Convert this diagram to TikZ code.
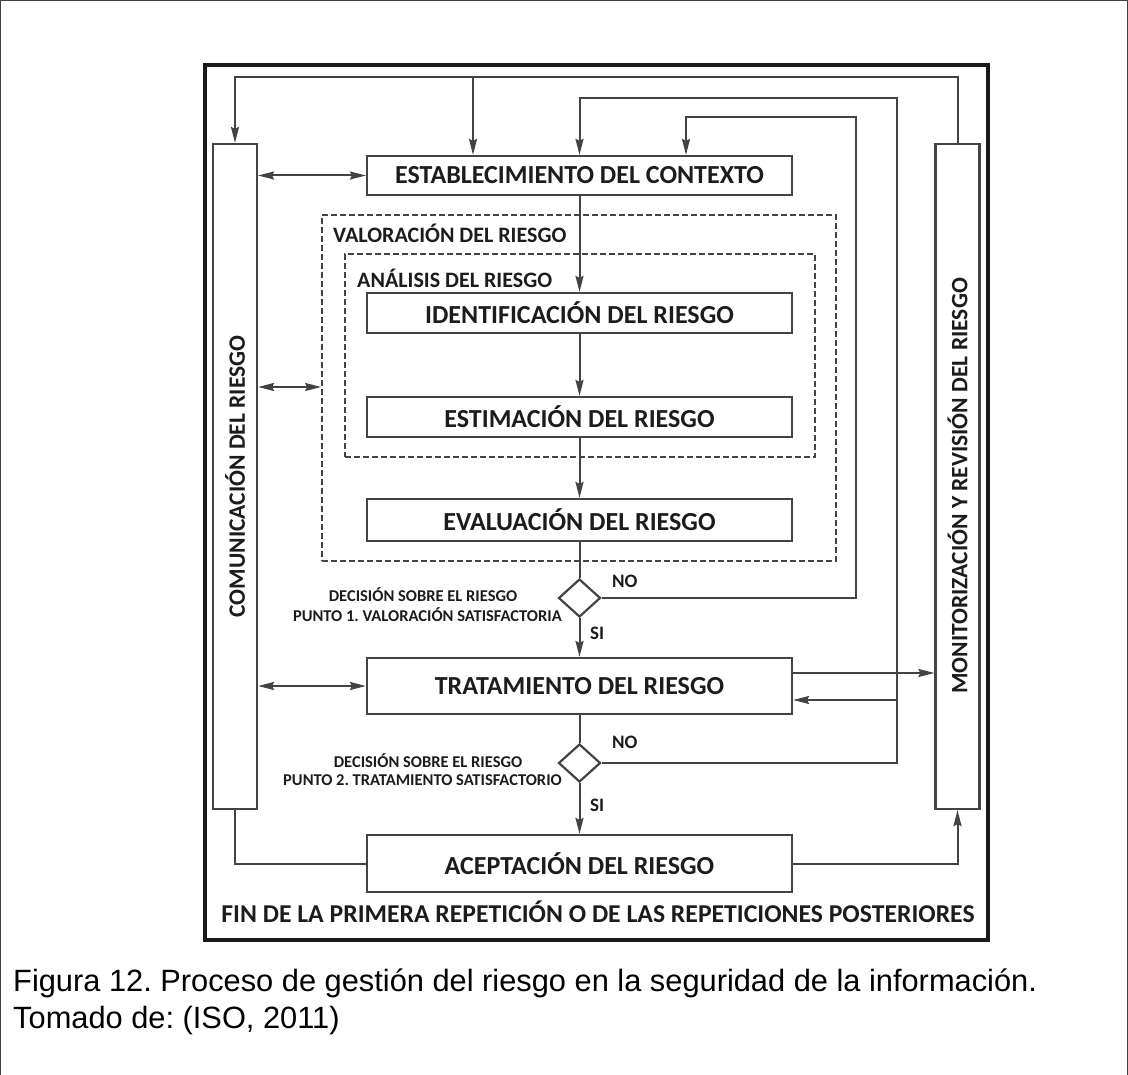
\documentclass[tikz,border=0pt]{standalone}
\usepackage{fontspec}
\usetikzlibrary{arrows.meta,shapes.geometric}
\newfontfamily\carl{Carlito}
\newfontfamily\capfont{Liberation Sans}
\frenchspacing
\definecolor{linec}{HTML}{434343}
\definecolor{txtc}{HTML}{1C1C1C}
\definecolor{framec}{HTML}{1A1A1A}
\newcommand\boxfont{\carl\bfseries\fontsize{26}{29}\selectfont}
\newcommand\finfont{\carl\bfseries\fontsize{25.7}{29}\selectfont}
\newcommand\colfont{\carl\bfseries\fontsize{23.5}{26}\selectfont}
\newcommand\grpfont{\carl\bfseries\fontsize{22}{25}\selectfont}
\newcommand\decfont{\carl\bfseries\fontsize{16.5}{19}\selectfont}
\newcommand\ynfont{\carl\bfseries\fontsize{19}{21}\selectfont}
\tikzset{
  stepbox/.style={draw=linec, line width=2.2pt, fill=white, inner sep=0pt,
    minimum width=425pt, font=\boxfont, text=txtc},
  column/.style={draw=linec, line width=2.2pt, fill=white, inner sep=0pt,
    minimum width=44pt, minimum height=665pt},
  group/.style={draw=linec, line width=1.8pt, dash pattern=on 6pt off 3pt,
    inner sep=0pt},
  decision/.style={diamond, draw=linec, line width=2.2pt, fill=white,
    inner sep=0pt, minimum width=42pt, minimum height=38pt},
  conn/.style={draw=linec, line width=2pt},
  arr/.style={conn, -{Stealth[length=16pt,width=8pt,inset=2pt]}},
  dbl/.style={conn, {Stealth[length=16pt,width=8pt,inset=2pt]}-{Stealth[length=16pt,width=8pt,inset=2pt]}},
  lbl/.style={text=txtc, inner sep=0pt}
}
\begin{document}
\begin{tikzpicture}[x=1pt,y=-1pt]
  \useasboundingbox (0,0) rectangle (1128,1075);
  % outer page border
  \draw[line width=1pt, color=black!75] (0.5,1075) -- (0.5,0.5) -- (1127.5,0.5) -- (1127.5,1075);
  % heavy frame around the process
  \draw[line width=4pt, color=framec] (205,65) rectangle (988,940);

  % side columns
  \node[column] (com) at (235,476.5) {};
  \node[column] (mon) at (957.5,476.5) {};
  \node[lbl, rotate=90, font=\colfont] (comtxt) at (com.center) {COMUNICACIÓN DEL RIESGO};
  \node[lbl, rotate=90, font=\colfont] (montxt) at (957.5,486) {MONITORIZACIÓN Y REVISIÓN DEL RIESGO};

  % nested dashed groups
  \node[group, minimum width=514pt, minimum height=346pt] (valor) at (579,388) {};
  \node[group, minimum width=470pt, minimum height=203pt] (anal) at (580,355.5) {};
  \node[lbl, anchor=west, font=\grpfont] (valortxt) at (333,233) {VALORACIÓN DEL RIESGO};
  \node[lbl, anchor=west, font=\grpfont] (analtxt) at (357,278) {ANÁLISIS DEL RIESGO};

  % process steps
  \node[stepbox, minimum height=39pt] (est)   at (579.5,175.5) {ESTABLECIMIENTO DEL CONTEXTO};
  \node[stepbox, minimum height=40pt] (ident) at (579.5,313)   {IDENTIFICACIÓN DEL RIESGO};
  \node[stepbox, minimum height=40pt] (estim) at (579.5,417)   {ESTIMACIÓN DEL RIESGO};
  \node[stepbox, minimum height=42pt] (eval)  at (579.5,520)   {EVALUACIÓN DEL RIESGO};
  \node[stepbox, minimum height=56pt] (trat)  at (579.5,686)   {TRATAMIENTO DEL RIESGO};
  \node[stepbox, minimum height=57pt] (acep)  at (579.5,863.5) {ACEPTACIÓN DEL RIESGO};

  % decision points
  \node[decision] (d1) at (579.5,598) {};
  \node[decision] (d2) at (579.5,763) {};

  % rail levels and positions for the feedback loops
  \coordinate (r1) at (0,77);
  \coordinate (r2) at (0,98);
  \coordinate (r3) at (0,117);
  \coordinate (v2) at (897,0);
  \coordinate (v3) at (856,0);
  \coordinate (j1) at (473,77);
  \coordinate (k3) at (686,117);
  \coordinate (j2) at (897,700);
  \coordinate (h1) at (0,387);
  \coordinate (h2) at (0,673);

  % main flow
  \draw[arr] (est.south) -- (ident.north);
  \draw[arr] (ident.south) -- (estim.north);
  \draw[arr] (estim.south) -- (eval.north);
  \draw[conn] (eval.south) -- (d1.north);
  \draw[arr] (d1.south) -- (trat.north);
  \draw[conn] (trat.south) -- (d2.north);
  \draw[arr] (d2.south) -- (acep.north);

  % top loop from monitoring to communication and context
  \draw[arr] (mon.north) -- (mon.north |- r1) -| (com.north);
  \draw[arr] (j1) -- (j1 |- est.north);

  % "NO" return paths
  \draw[arr] (d1.east) -- (d1.east -| v3) -- (v3 |- r3) -- (k3) -- (k3 |- est.north);
  \draw[arr] (d2.east) -- (d2.east -| v2) -- (v2 |- r2) -- (est.north |- r2) -- (est.north);
  \draw[arr] (j2) -- (j2 -| trat.east);

  % exchanges with the side columns
  \draw[dbl] (com.east |- est) -- (est.west);
  \draw[dbl] (com.east |- h1) -- (valor.west |- h1);
  \draw[dbl] (com.east |- trat) -- (trat.west);
  \draw[arr] (trat.east |- h2) -- (mon.west |- h2);
  \draw[conn] (com.south) -- (com.south |- acep) -- (acep.west);
  \draw[arr] (acep.east) -- (acep.east -| mon.south) -- (mon.south);

  % decision labels
  \node[lbl, font=\ynfont, anchor=west] (no1) at (612,581) {NO};
  \node[lbl, font=\ynfont, anchor=west] (si1) at (590,633) {SI};
  \node[lbl, font=\ynfont, anchor=west] (no2) at (612,742) {NO};
  \node[lbl, font=\ynfont, anchor=west] (si2) at (590,805) {SI};
  \node[lbl, font=\decfont] (dec1a) at (423,595) {DECISIÓN SOBRE EL RIESGO};
  \node[lbl, font=\decfont, anchor=east] (dec1b) at (562,615) {PUNTO 1. VALORACIÓN SATISFACTORIA};
  \node[lbl, font=\decfont] (dec2a) at (428,761) {DECISIÓN SOBRE EL RIESGO};
  \node[lbl, font=\decfont, anchor=east] (dec2b) at (562,780) {PUNTO 2. TRATAMIENTO SATISFACTORIO};

  % closing note
  \node[lbl, font=\finfont] (fin) at (598,912) {FIN DE LA PRIMERA REPETICIÓN O DE LAS REPETICIONES POSTERIORES};

  % caption
  \node[anchor=base west, inner sep=0pt, font=\capfont\fontsize{30.8}{34}\selectfont] (cap1) at (13,991)
    {Figura 12. Proceso de gestión del riesgo en la seguridad de la información.};
  \node[anchor=base west, inner sep=0pt, font=\capfont\fontsize{30.8}{34}\selectfont] (cap2) at (13,1028)
    {Tomado de: (ISO, 2011)};
\end{tikzpicture}
\end{document}
